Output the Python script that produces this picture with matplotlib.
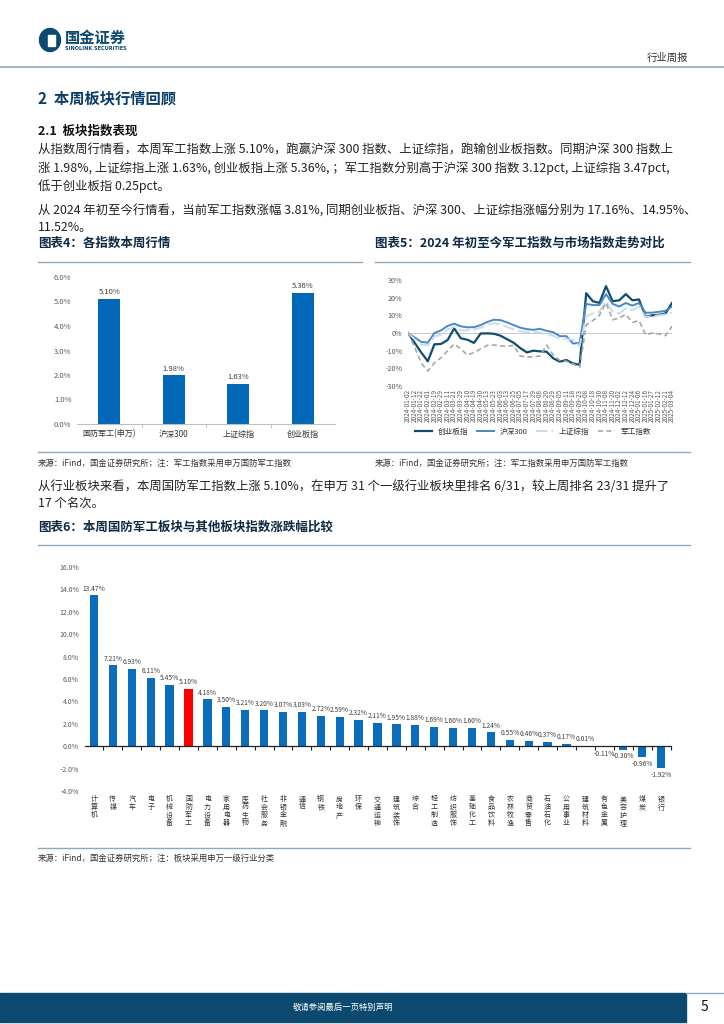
import matplotlib
matplotlib.use('Agg')
import matplotlib.pyplot as plt
from matplotlib.patches import Rectangle, Ellipse
from matplotlib.lines import Line2D
import matplotlib.transforms as mtransforms

plt.rcParams['font.family'] = ['Noto Sans CJK SC', 'DejaVu Sans']

# ---------------- data ----------------
idx_names = ['国防军工(申万)', '沪深300', '上证综指', '创业板指']
idx_week = [5.10, 1.98, 1.63, 5.36]

trend_dates = ['2024-01-02', '2024-01-12', '2024-01-22', '2024-02-01', '2024-02-19', '2024-02-29',
               '2024-03-11', '2024-03-21', '2024-03-29', '2024-04-10', '2024-04-19', '2024-04-30',
               '2024-05-13', '2024-05-23', '2024-06-03', '2024-06-13', '2024-06-25', '2024-07-05',
               '2024-07-17', '2024-07-29', '2024-08-08', '2024-08-20', '2024-08-29', '2024-09-05',
               '2024-09-11', '2024-09-18', '2024-09-23', '2024-10-08', '2024-10-18', '2024-10-30',
               '2024-11-08', '2024-11-20', '2024-12-02', '2024-12-12', '2024-12-24', '2025-01-06',
               '2025-01-16', '2025-01-27', '2025-02-12', '2025-02-21', '2025-03-04']
cyb = [0, -5.5, -11, -16, -6.4, -6.2, -4.0, 2.6, -3.0, -3.8,
       -5.6, -0.3, -0.2, -0.4, -1.5, -3.5, -5.5, -8.5, -11.0, -10.0,
       -10.4, -10.6, -14.3, -16.2, -15.3, -17.2, -18.0,
       22.5, 18.0, 17.0, 26.5, 18.0, 18.5, 22.0, 18.5, 19.0, 9.2, 10.0, 10.3, 11.0, 17.0]
hs300 = [0, -2.5, -5.0, -5.5, 0.0, 1.5, 4.0, 5.3, 3.8, 3.2,
         3.3, 4.5, 6.2, 7.5, 7.3, 6.0, 4.5, 3.0, 2.2, 1.8,
         2.4, 1.2, 0.5, -1.8, -1.8, -6.0, -5.5,
         16.5, 15.8, 15.8, 22.0, 16.5, 15.0, 17.0, 15.5, 17.0, 11.5, 11.5, 12.0, 12.5, 15.0]
szzz = [0, -3.5, -6.5, -7.0, -2.0, -1.0, 2.0, 3.5, 1.5, 1.5,
        2.0, 3.0, 4.5, 5.5, 5.0, 3.5, 2.0, 1.0, 0.5, 0.5,
        0.3, -1.0, -1.5, -3.5, -3.5, -3.8, -7.5,
        9.5, 11.0, 12.0, 18.0, 12.0, 11.0, 14.0, 13.0, 15.0, 9.0, 9.5, 10.0, 10.5, 11.5]
jgzs = [0, -8, -17, -21.5, -17, -14, -10, -6.2, -9, -12.5,
        -11, -9, -7, -6.8, -7.3, -7.5, -7, -13, -13.5, -13.5,
        -13, -6.8, -12.5, -15.5, -16, -17.5, -19.5,
        4.5, 7, 10, 17, 7.5, 8.5, 10.5, 6, 7, -1, 0, -0.5, -1.5, 3.8]
trend_names = ['创业板指', '沪深300', '上证综指', '军工指数']

sectors = ['计算机', '传媒', '汽车', '电子', '机械设备', '国防军工', '电力设备', '家用电器',
           '医药生物', '社会服务', '非银金融', '通信', '钢铁', '房地产', '环保', '交通运输',
           '建筑装饰', '综合', '轻工制造', '纺织服饰', '基础化工', '食品饮料', '农林牧渔',
           '商贸零售', '石油石化', '公用事业', '建筑材料', '有色金属', '美容护理', '煤炭', '银行']
sector_chg = [13.47, 7.21, 6.93, 6.11, 5.45, 5.10, 4.18, 3.50, 3.21, 3.20, 3.07, 3.03,
              2.72, 2.59, 2.32, 2.11, 1.95, 1.88, 1.69, 1.60, 1.60, 1.24, 0.55, 0.46,
              0.37, 0.17, 0.01, -0.11, -0.30, -0.96, -1.92]
highlight = '国防军工'

# ---------------- page ----------------
W, H = 724, 1024
fig = plt.figure(figsize=(7.24, 10.24), dpi=100)
NAVY = '#0b4a6e'
RULE = '#8fa9bc'

def fx(px):
    return px / W

def fy(py):
    return 1 - py / H

def hline(x0, x1, y, color=RULE, lw=1.0):
    fig.add_artist(Line2D([fx(x0), fx(x1)], [fy(y), fy(y)], color=color, lw=lw,
                          transform=fig.transFigure))

def txt(x, y, s, **kw):
    kw.setdefault('va', 'center')
    kw.setdefault('ha', 'left')
    return fig.text(fx(x), fy(y), s, **kw)

def add_ax(l, t, r, b):
    return fig.add_axes([fx(l), fy(b), (r - l) / W, (b - t) / H])

# header
fig.add_artist(Ellipse((fx(50), fy(40)), 21 / W, 23 / H, color=NAVY, transform=fig.transFigure))
fig.add_artist(Rectangle((fx(48), fy(46)), 7 / W, 11 / H, color='white', transform=fig.transFigure))
txt(65, 38, '国金证券', fontsize=11, fontweight='bold', color=NAVY)
txt(65, 49, 'SINOLINK SECURITIES', fontsize=3.6, fontweight='bold', color=NAVY, family='DejaVu Sans')
txt(688, 58, '行业周报', fontsize=7.5, color='#333333', ha='right')
hline(0, 724, 67, RULE, 1.2)

txt(38, 98, '2  本周板块行情回顾', fontsize=11, fontweight='bold', color='#0b3d6b')
txt(38, 131, '2.1  板块指数表现', fontsize=9, fontweight='bold', color='#111111')

body = dict(fontsize=8.9, color='#222222')
txt(38, 150, '从指数周行情看，本周军工指数上涨 5.10%，跑赢沪深 300 指数、上证综指，跑输创业板指数。同期沪深 300 指数上', **body)
txt(38, 168, '涨 1.98%, 上证综指上涨 1.63%, 创业板指上涨 5.36%, ；军工指数分别高于沪深 300 指数 3.12pct, 上证综指 3.47pct,', **body)
txt(38, 186, '低于创业板指 0.25pct。', **body)
txt(38, 211, '从 2024 年初至今行情看，当前军工指数涨幅 3.81%, 同期创业板指、沪深 300、上证综指涨幅分别为 17.16%、14.95%、', **body)
txt(38, 228, '11.52%。', **body)

title_kw = dict(fontsize=9, fontweight='bold', color='#0f2a45')
txt(38, 243, '图表4：各指数本周行情', **title_kw)
txt(375, 243, '图表5：2024 年初至今军工指数与市场指数走势对比', **title_kw)
hline(38, 362, 262)
hline(375, 690, 262)
hline(38, 690, 452)
src_kw = dict(fontsize=6, color='#333333')
txt(38, 463, '来源：iFind，国金证券研究所；注：军工指数采用申万国防军工指数', **src_kw)
txt(375, 463, '来源：iFind，国金证券研究所；注：军工指数采用申万国防军工指数', **src_kw)

txt(38, 486, '从行业板块来看，本周国防军工指数上涨 5.10%，在申万 31 个一级行业板块里排名 6/31，较上周排名 23/31 提升了', **body)
txt(38, 503, '17 个名次。', **body)
txt(38, 527, '图表6：本周国防军工板块与其他板块指数涨跌幅比较', **title_kw)
hline(38, 690, 545)
hline(38, 690, 848)
txt(38, 858, '来源：iFind，国金证券研究所；注：板块采用申万一级行业分类', **src_kw)

# footer
fig.add_artist(Rectangle((0, fy(1022)), fx(686), 29 / H, color=NAVY, transform=fig.transFigure))
hline(686, 724, 993, RULE, 1.0)
txt(343, 1007, '敬请参阅最后一页特别声明', fontsize=6, color='white', ha='center')
txt(704, 1007, '5', fontsize=10, color='#111111', ha='center')

TICK_C = '#595959'

# ---------------- chart 4 ----------------
ax4 = add_ax(77, 277, 335, 424)
x4 = list(range(len(idx_names)))
ax4.bar(x4, idx_week, width=0.34, color='#0068b7')
for xi, v in zip(x4, idx_week):
    ax4.text(xi, v + 0.12, f'{v:.2f}%', ha='center', va='bottom', fontsize=5.5, color='#404040')
ax4.set_ylim(0, 6)
ax4.set_xlim(-0.5, len(idx_names) - 0.5)
ax4.set_yticks([0, 1, 2, 3, 4, 5, 6])
ax4.set_yticklabels([f'{t:.1f}%' for t in [0, 1, 2, 3, 4, 5, 6]])
ax4.set_xticks(x4)
ax4.set_xticklabels(idx_names)
ax4.set_xticks([0.5, 1.5, 2.5], minor=True)
ax4.tick_params(axis='x', which='major', length=0, labelsize=5.8, colors='#333333', pad=4)
ax4.tick_params(axis='x', which='minor', length=3, color='#bfbfbf')
ax4.tick_params(axis='y', length=0, labelsize=5.5, colors=TICK_C, pad=4)
for s in ['top', 'right', 'left']:
    ax4.spines[s].set_visible(False)
ax4.spines['bottom'].set_color('#bfbfbf')
ax4.spines['bottom'].set_linewidth(0.8)

# ---------------- chart 5 ----------------
ax5 = add_ax(408, 280, 672, 386)
xs = list(range(len(trend_dates)))
styles = [dict(color='#0e4d6e', lw=1.6, ls='-'),
          dict(color='#4c87c5', lw=1.4, ls='-'),
          dict(color='#c6dcf0', lw=1.4, ls=(0, (6, 2))),
          dict(color='#a6a6a6', lw=1.2, ls=(0, (3, 2)))]
for name, ys, st in zip(trend_names, [cyb, hs300, szzz, jgzs], styles):
    ax5.plot(xs, ys, label=name, **st)
ax5.axhline(0, color='#c8c8c8', lw=0.7, zorder=0)
ax5.set_ylim(-30, 30)
ax5.set_xlim(0, len(trend_dates) - 1)
ax5.set_yticks([-30, -20, -10, 0, 10, 20, 30])
ax5.set_yticklabels([f'{t}%' for t in [-30, -20, -10, 0, 10, 20, 30]])
ax5.set_xticks(xs)
ax5.set_xticklabels(trend_dates, rotation=90)
ax5.tick_params(axis='x', length=0, labelsize=4.6, colors=TICK_C, pad=2)
ax5.tick_params(axis='y', length=0, labelsize=5.2, colors=TICK_C, pad=4)
for s in ['top', 'right', 'left', 'bottom']:
    ax5.spines[s].set_visible(False)
ax5.legend(loc='center', bbox_to_anchor=(fx(533), fy(432)), bbox_transform=fig.transFigure,
           ncol=4, frameon=False, fontsize=5.5, handlelength=2.2, columnspacing=1.1,
           handletextpad=0.8, labelcolor='#333333')

# ---------------- chart 6 ----------------
ax6 = add_ax(84.5, 567, 670.5, 791)
x6 = list(range(len(sectors)))
colors6 = ['#ff0000' if s == highlight else '#0a6ebd' for s in sectors]
ax6.bar(x6, sector_chg, width=0.44, color=colors6)
for xi, v in zip(x6, sector_chg):
    if v >= 0:
        ax6.text(xi, v + 0.25, f'{v:.2f}%', ha='center', va='bottom', fontsize=4.8, color='#404040')
    else:
        ax6.text(xi, v - 0.25, f'{v:.2f}%', ha='center', va='top', fontsize=4.8, color='#404040')
ax6.set_ylim(-4, 16)
ax6.set_xlim(-0.5, len(sectors) - 0.5)
yt6 = [-4, -2, 0, 2, 4, 6, 8, 10, 12, 14, 16]
ax6.set_yticks(yt6)
ax6.set_yticklabels([f'{t:.1f}%' for t in yt6])
ax6.tick_params(axis='y', length=0, labelsize=5.0, colors=TICK_C, pad=4)
ax6.spines['bottom'].set_position(('data', 0))
ax6.spines['bottom'].set_color('#222222')
ax6.spines['bottom'].set_linewidth(0.9)
for s in ['top', 'right', 'left']:
    ax6.spines[s].set_visible(False)
ax6.set_xticks([i + 0.5 for i in x6])
ax6.set_xticklabels([])
ax6.tick_params(axis='x', length=3, color='#222222', width=0.8, direction='out')
trans = mtransforms.blended_transform_factory(ax6.transData, ax6.transAxes)
for xi, s in zip(x6, sectors):
    ax6.text(xi, -0.02, '\n'.join(s), transform=trans, ha='center', va='top',
             fontsize=5.0, color='#333333', linespacing=1.0)

fig.savefig('out.png', dpi=100)
